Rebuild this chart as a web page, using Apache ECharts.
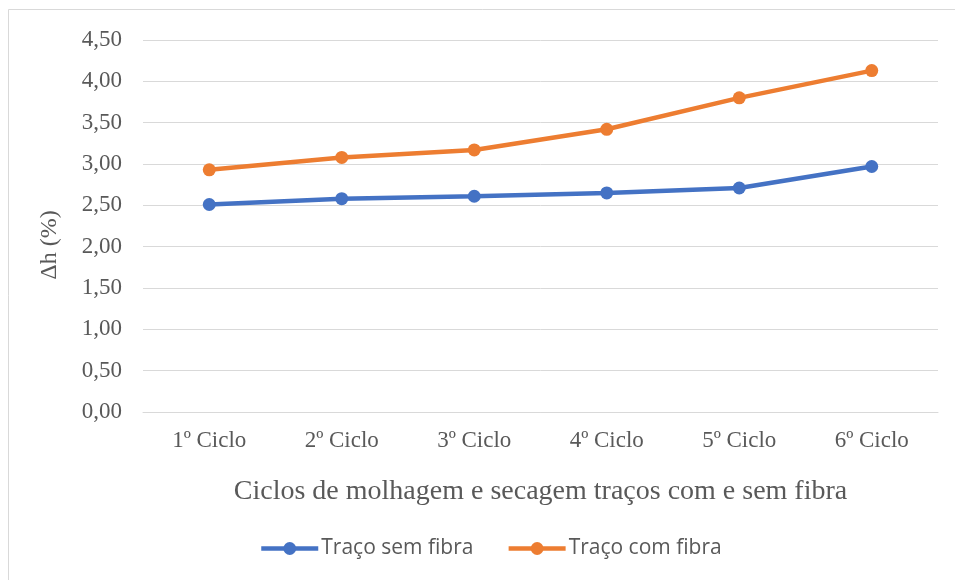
<!DOCTYPE html>
<html>
<head>
<meta charset="utf-8">
<script src="https://cdn.jsdelivr.net/npm/echarts@6/dist/echarts.min.js"></script>
<style>html,body{margin:0;padding:0;background:#fff}#c{width:955px;height:580px}</style>
</head>
<body>
<div id="c"></div>
<script>
var categories = ['1º Ciclo', '2º Ciclo', '3º Ciclo', '4º Ciclo', '5º Ciclo', '6º Ciclo'];
var semFibra = [2.51, 2.58, 2.61, 2.65, 2.71, 2.97];
var comFibra = [2.93, 3.08, 3.17, 3.42, 3.80, 4.13];
var seriesNames = ['Traço sem fibra', 'Traço com fibra'];
var xTitle = 'Ciclos de molhagem e secagem traços com e sem fibra';
var yTitle = 'Δh (%)';

var chart = echarts.init(document.getElementById('c'));
var serif = '"Liberation Serif", "Times New Roman", serif';
chart.setOption({
  animation: false,
  backgroundColor: '#ffffff',
  grid: { left: 143, right: 17, top: 40, bottom: 168, containLabel: false },
  graphic: [
    { type: 'rect', shape: { x: 8.5, y: 9.5, width: 1000, height: 1000 }, style: { fill: 'none', stroke: '#d9d9d9', lineWidth: 1 }, silent: true },
    { type: 'text', x: 50, y: 245, rotation: Math.PI / 2, style: { text: yTitle, font: '24px ' + serif, fill: '#595959', align: 'center', verticalAlign: 'middle' } }
  ],
  xAxis: {
    type: 'category',
    data: categories,
    boundaryGap: true,
    axisLine: { show: true, lineStyle: { color: '#d9d9d9', width: 1 } },
    axisTick: { show: false },
    axisLabel: { color: '#595959', fontFamily: serif, fontSize: 23, margin: 17 },
    name: xTitle,
    nameLocation: 'middle',
    nameGap: 66,
    nameTextStyle: { color: '#595959', fontFamily: serif, fontSize: 28 }
  },
  yAxis: {
    type: 'value',
    min: 0, max: 4.5, interval: 0.5,
    axisLine: { show: false },
    axisTick: { show: false },
    splitLine: { lineStyle: { color: '#d9d9d9', width: 1 } },
    axisLabel: {
      color: '#595959', fontFamily: serif, fontSize: 23, margin: 21,
      formatter: function (v) { return v.toFixed(2).replace('.', ','); }
    }
  },
  legend: {
    bottom: 16,
    left: 254,
    itemWidth: 57,
    itemHeight: 16,
    itemGap: 33,
    lineStyle: { width: 4.5 },
    textStyle: { color: '#595959', fontFamily: '"Open Sans", "Liberation Sans", sans-serif', fontSize: 21, padding: [0, 0, 0, -2] },
    data: seriesNames
  },
  series: [
    { name: seriesNames[0], type: 'line', data: semFibra, color: '#4472C4', symbol: 'circle', symbolSize: 13, lineStyle: { width: 4.5 } },
    { name: seriesNames[1], type: 'line', data: comFibra, color: '#ED7D31', symbol: 'circle', symbolSize: 13, lineStyle: { width: 4.5 } }
  ]
});
</script>
</body>
</html>
